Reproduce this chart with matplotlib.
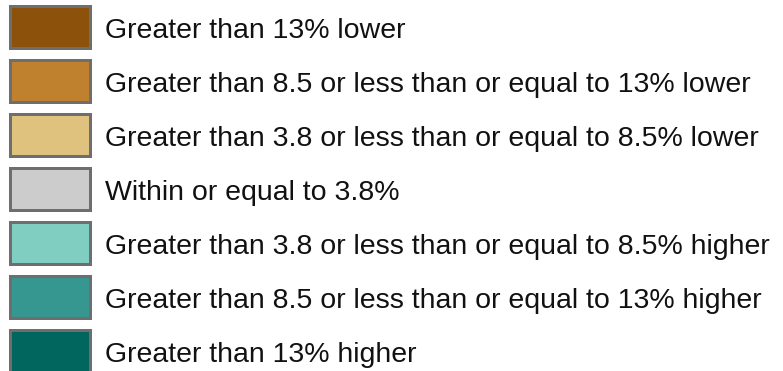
import matplotlib
matplotlib.use("Agg")
import matplotlib.pyplot as plt
from matplotlib.patches import Rectangle

labels = [
    "Greater than 13% lower",
    "Greater than 8.5 or less than or equal to 13% lower",
    "Greater than 3.8 or less than or equal to 8.5% lower",
    "Within or equal to 3.8%",
    "Greater than 3.8 or less than or equal to 8.5% higher",
    "Greater than 8.5 or less than or equal to 13% higher",
    "Greater than 13% higher",
]
colors = ["#8c510a", "#bf812d", "#dfc27d", "#cccccc", "#80cdc1", "#35978f", "#01665e"]

W, H = 783, 371
fig = plt.figure(figsize=(W / 100, H / 100), dpi=100)
ax = fig.add_axes([0, 0, 1, 1])
ax.set_xlim(0, W)
ax.set_ylim(H, 0)
ax.axis("off")

pitch = 54
top0 = 5.5
bw, bh = 80, 42
for i, (lab, col) in enumerate(zip(labels, colors)):
    y = top0 + i * pitch
    ax.add_patch(Rectangle((9.5, y), bw, bh, facecolor=col, edgecolor="#6e6e6e", linewidth=2.16))
    ax.text(105, y + 32, lab, fontsize=20.5, family="Liberation Sans",
            color="#111111", va="baseline", ha="left")

fig.savefig("out.png", dpi=100)
